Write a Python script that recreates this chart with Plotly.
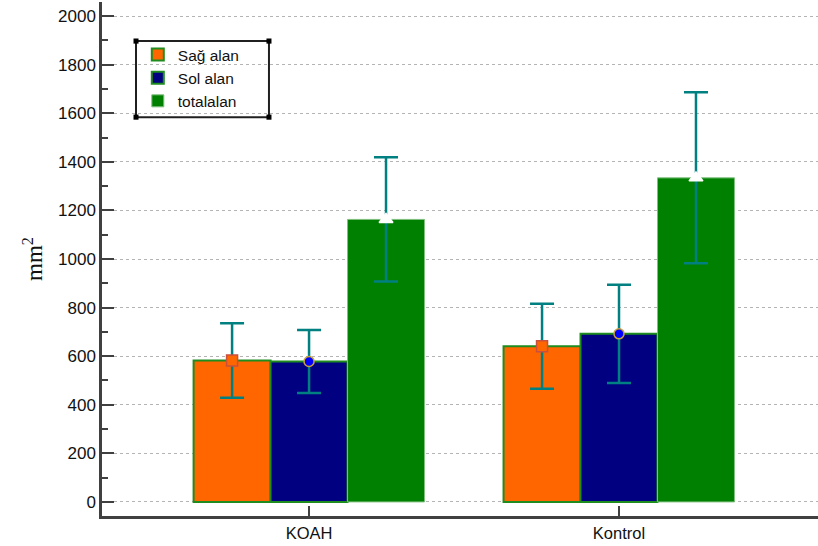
import plotly.graph_objects as go

categories = ["KOAH", "Kontrol"]
series_names = ["Sağ alan", "Sol alan", "totalalan"]
sag_mean = [582, 641]
sag_sd = [153, 175]
sol_mean = [578, 692]
sol_sd = [130, 202]
total_mean = [1163, 1334]
total_sd = [256, 352]
y_ticks = [0, 200, 400, 600, 800, 1000, 1200, 1400, 1600, 1800, 2000]

bar_colors = ["#FF6600", "#000080", "#008000"]
bar_lines = ["#1E8C1E", "#1E8C1E", "#7FC07F"]
bar_line_w = [2, 2, 1]
means = [sag_mean, sol_mean, total_mean]
sds = [sag_sd, sol_sd, total_sd]
mk_sym = ["square", "circle", "triangle-up"]
mk_col = ["#FF6600", "#0000FF", "#FFFFFF"]
mk_line = ["#C8503C", "#C8A03C", "#FFFFFF"]
mk_size = [11, 10, 12]

fig = go.Figure()
for i in range(3):
    fig.add_trace(go.Bar(
        x=categories, y=means[i], name=series_names[i],
        offsetgroup=str(i),
        marker=dict(color=bar_colors[i], line=dict(color=bar_lines[i], width=bar_line_w[i])),
    ))
for i in range(3):
    fig.add_trace(go.Scatter(
        x=categories, y=means[i], mode="markers", showlegend=False,
        offsetgroup=str(i),
        marker=dict(symbol=mk_sym[i], color=mk_col[i], size=mk_size[i],
                    line=dict(color=mk_line[i], width=1.5)),
        error_y=dict(type="data", array=sds[i], color="#008080", thickness=2.5, width=12),
    ))

# legend box with corner handles
lx0, lx1, ly0, ly1 = 0.0475, 0.2332, 0.776, 0.924
shapes = [dict(type="rect", xref="paper", yref="paper", x0=lx0, x1=lx1, y0=ly0, y1=ly1,
               line=dict(color="#202020", width=2), fillcolor="white", layer="below")]
for cx in (lx0, lx1):
    for cy in (ly0, ly1):
        shapes.append(dict(type="rect", xref="paper", yref="paper",
                           x0=cx - 0.0035, x1=cx + 0.0035, y0=cy - 0.005, y1=cy + 0.005,
                           line=dict(width=0), fillcolor="black", layer="above"))

fig.update_layout(
    width=818, height=546,
    margin=dict(l=102, r=0, t=2, b=30),
    paper_bgcolor="white", plot_bgcolor="white",
    barmode="group", bargap=0.255, bargroupgap=0,
    scattermode="group", scattergap=0.255,
    font=dict(family="Liberation Sans, Arial", size=17, color="#111111"),
    showlegend=True,
    legend=dict(x=0.05, y=0.93, xanchor="left", yanchor="top",
                bgcolor="rgba(0,0,0,0)", borderwidth=0,
                font=dict(size=15.5), tracegroupgap=0, itemwidth=30),
    shapes=shapes,
    xaxis=dict(range=[-0.668, 1.642], showgrid=False, showline=True,
               linecolor="#404040", linewidth=2.5,
               ticks="inside", ticklen=10, tickwidth=2, tickcolor="#404040",
               tickfont=dict(size=16.5)),
    yaxis=dict(range=[-58, 2058], tickvals=y_ticks, showline=True,
               linecolor="#404040", linewidth=2.5,
               ticks="inside", ticklen=12, tickwidth=2, tickcolor="#404040",
               minor=dict(dtick=100, ticks="inside", ticklen=6, tickwidth=2,
                          tickcolor="#404040", showgrid=False),
               showgrid=True, gridcolor="#B4B4B4", griddash="dot", gridwidth=1,
               zeroline=False, tickfont=dict(size=17),
               title=dict(text="mm<sup>2</sup>", standoff=9,
                          font=dict(family="Liberation Serif, Times New Roman", size=23))),
)

fig.write_html("out.html", config={"displayModeBar": False},
               post_script="document.body.style.margin='0';document.body.style.overflow='hidden';")
